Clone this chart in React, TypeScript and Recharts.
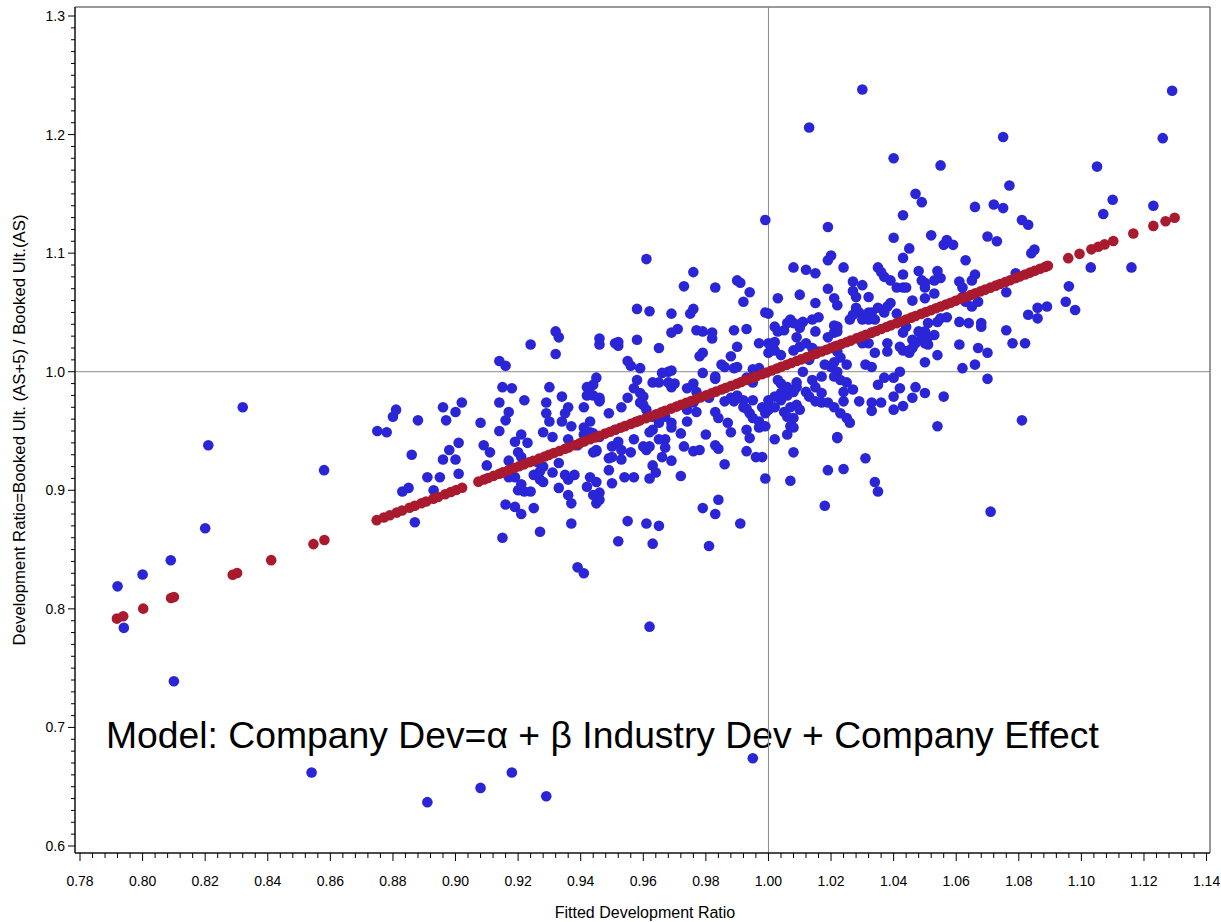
import React from "react";
import { ScatterChart, Scatter, XAxis, YAxis, ReferenceLine, ReferenceArea } from "recharts";

// tick labels
const xMajorTicks = [0.78, 0.8, 0.82, 0.84, 0.86, 0.88, 0.9, 0.92, 0.94, 0.96, 0.98, 1.0, 1.02, 1.04, 1.06, 1.08, 1.1, 1.12, 1.14];
const yMajorTicks = [0.6, 0.7, 0.8, 0.9, 1.0, 1.1, 1.2, 1.3];

// company points: [fitted ratio, actual development ratio]
const companyPoints: [number, number][] = [
  // left tail and low outliers
  [0.792, 0.819], [0.794, 0.784], [0.8, 0.829], [0.809, 0.841], [0.81, 0.739], [0.82, 0.868], [0.821, 0.938], [0.832, 0.97],
  [0.858, 0.917], [0.854, 0.662], [0.891, 0.637], [0.908, 0.649], [0.918, 0.662], [0.929, 0.642], [0.995, 0.674], [0.962, 0.785],
  [0.939, 0.835], [0.941, 0.83],
  // 0.87 - 0.90
  [0.875, 0.95], [0.878, 0.949], [0.88, 0.962], [0.881, 0.968], [0.888, 0.959], [0.896, 0.97], [0.902, 0.974], [0.897, 0.959],
  [0.9, 0.966], [0.886, 0.93], [0.901, 0.94], [0.898, 0.934], [0.896, 0.926], [0.9, 0.926], [0.901, 0.914], [0.891, 0.911],
  [0.895, 0.911], [0.885, 0.902], [0.883, 0.899], [0.893, 0.9], [0.887, 0.873],
  // 0.90 - 0.92
  [0.908, 0.957], [0.914, 0.95], [0.909, 0.938], [0.911, 0.932], [0.91, 0.921], [0.915, 0.987], [0.918, 0.986], [0.914, 0.974],
  [0.917, 0.966], [0.916, 0.959], [0.922, 0.976], [0.921, 0.947], [0.923, 0.94], [0.919, 0.941], [0.92, 0.932], [0.917, 0.925],
  [0.921, 0.928], [0.915, 0.86], [0.916, 0.888], [0.919, 0.886], [0.921, 0.88], [0.925, 0.885], [0.917, 0.911], [0.919, 0.911],
  [0.92, 0.9], [0.922, 0.899], [0.924, 0.899], [0.921, 0.905], [0.927, 0.865], [0.914, 1.009], [0.916, 1.005], [0.924, 1.023],
  // 0.92 - 0.95
  [0.93, 0.987], [0.934, 0.979], [0.929, 0.974], [0.929, 0.965], [0.93, 0.958], [0.928, 0.949], [0.931, 0.945], [0.935, 0.965],
  [0.936, 0.97], [0.934, 0.958], [0.937, 0.954], [0.941, 0.97], [0.943, 0.987], [0.944, 0.98], [0.946, 0.975], [0.943, 0.958],
  [0.941, 0.953], [0.936, 0.943], [0.939, 0.938], [0.944, 0.948], [0.945, 0.933], [0.949, 0.965], [0.926, 0.924], [0.928, 0.92],
  [0.925, 0.913], [0.927, 0.909], [0.931, 0.915], [0.933, 0.923], [0.935, 0.913], [0.938, 0.913], [0.936, 0.909], [0.933, 0.902],
  [0.943, 0.911], [0.945, 0.907], [0.942, 0.903], [0.944, 0.896], [0.946, 0.898], [0.945, 0.889], [0.936, 0.896], [0.937, 0.889],
  [0.937, 0.872], [0.949, 0.917], [0.949, 0.927], [0.927, 0.916], [0.928, 0.907], [0.946, 0.892], [0.944, 0.932], [0.945, 0.934],
  [0.941, 0.947], [0.943, 0.949], [0.932, 1.034], [0.933, 1.029], [0.932, 1.015], [0.946, 1.028], [0.946, 1.023], [0.945, 0.995],
  [0.942, 0.987], [0.944, 0.989], [0.942, 0.98], [0.946, 0.976], [0.946, 0.978], [0.946, 0.945],
  // 0.95 - 0.97
  [0.95, 0.906], [0.954, 0.911], [0.957, 0.911], [0.962, 0.91], [0.964, 0.915], [0.966, 0.928], [0.963, 0.921], [0.969, 0.925],
  [0.961, 0.934], [0.962, 0.937], [0.967, 0.943], [0.955, 0.874], [0.961, 0.872], [0.965, 0.87], [0.952, 0.857], [0.963, 0.855],
  [0.95, 0.937], [0.953, 0.934], [0.95, 0.928], [0.953, 0.926], [0.956, 0.932], [0.951, 1.024], [0.952, 1.025], [0.952, 1.022],
  [0.958, 1.027], [0.961, 1.095], [0.958, 1.053], [0.962, 1.051], [0.965, 1.02], [0.969, 1.049], [0.969, 1.033], [0.955, 1.009],
  [0.956, 1.005], [0.959, 1.003], [0.958, 0.993], [0.963, 0.991], [0.965, 0.991], [0.968, 1.0], [0.969, 1.001], [0.968, 0.991],
  [0.966, 0.999], [0.957, 0.986], [0.959, 0.982], [0.96, 0.979], [0.955, 0.978], [0.953, 0.97], [0.959, 0.974], [0.96, 0.972],
  [0.958, 0.958], [0.957, 0.943], [0.963, 0.951], [0.969, 0.953], [0.961, 0.968], [0.963, 0.962], [0.965, 0.957], [0.967, 0.962],
  [0.969, 0.957], [0.962, 0.949], [0.965, 0.943], [0.967, 0.936], [0.96, 0.937], [0.951, 0.951], [0.952, 0.941], [0.969, 0.987],
  // 0.97 - 1.00
  [0.972, 0.912], [0.973, 0.937], [0.976, 0.933], [0.978, 0.934], [0.983, 0.938], [0.984, 0.935], [0.986, 0.922], [0.984, 0.892],
  [0.979, 0.885], [0.983, 0.88], [0.991, 0.872], [0.981, 0.853], [0.993, 0.933], [0.996, 0.928], [0.971, 1.036], [0.973, 1.072],
  [0.976, 1.084], [0.975, 1.049], [0.976, 1.053], [0.983, 1.071], [0.977, 1.035], [0.979, 1.034], [0.982, 1.033], [0.982, 1.028],
  [0.99, 1.077], [0.991, 1.075], [0.994, 1.067], [0.992, 1.059], [0.989, 1.035], [0.993, 1.036], [0.997, 1.024], [0.99, 1.021],
  [0.988, 1.013], [0.978, 1.013], [0.979, 1.016], [0.985, 1.006], [0.986, 1.004], [0.989, 1.003], [0.99, 1.004], [0.979, 0.999],
  [0.97, 0.99], [0.976, 0.99], [0.993, 0.951], [0.994, 0.944], [0.976, 0.974], [0.989, 0.975], [0.995, 0.976], [0.994, 0.965],
  [0.995, 0.991], [0.993, 0.995], [0.997, 1.003], [0.995, 1.002], [0.983, 0.994], [0.983, 0.996], [0.974, 0.986], [0.977, 0.983],
  [0.972, 0.948], [0.974, 0.968], [0.977, 0.966], [0.981, 0.978], [0.983, 0.966], [0.984, 0.961], [0.986, 0.975], [0.988, 0.978],
  [0.99, 0.98], [0.992, 0.976], [0.992, 0.97], [0.993, 0.969], [0.998, 0.97], [0.999, 0.965], [0.995, 0.961], [0.997, 0.958],
  [0.997, 0.953], [0.999, 0.954], [0.987, 0.957], [0.988, 0.949], [0.98, 0.947], [0.974, 0.958], [0.998, 0.928], [0.999, 0.91],
  [0.999, 1.128], [0.999, 1.05],
  // 1.00 - 1.03
  [1.0, 1.049], [1.003, 1.062], [1.01, 1.065], [1.015, 1.058], [1.019, 1.07], [1.021, 1.062], [1.022, 1.056], [1.002, 1.038],
  [1.006, 1.041], [1.007, 1.044], [1.005, 1.035], [1.01, 1.04], [1.011, 1.042], [1.014, 1.044], [1.016, 1.046], [1.021, 1.039],
  [1.021, 1.033], [1.0, 1.024], [1.0, 1.016], [1.002, 1.018], [1.004, 1.014], [1.008, 1.018], [1.01, 1.021], [1.012, 1.024],
  [1.014, 1.02], [1.016, 1.017], [1.021, 1.021], [1.022, 1.017], [1.023, 1.012], [1.025, 1.006], [1.018, 1.006], [1.02, 1.004],
  [1.022, 1.0], [1.017, 0.996], [1.021, 0.996], [1.023, 0.993], [1.002, 0.97], [1.004, 0.976], [1.005, 0.966], [1.007, 0.97],
  [1.009, 0.972], [1.01, 0.968], [1.002, 0.979], [1.004, 0.982], [1.006, 0.98], [1.008, 0.983], [1.009, 0.987], [1.004, 0.99],
  [1.006, 0.987], [1.012, 0.983], [1.013, 0.979], [1.015, 0.975], [1.017, 0.974], [1.019, 0.974], [1.021, 0.97], [1.023, 0.965],
  [1.025, 0.961], [1.026, 0.957], [1.008, 0.961], [1.007, 0.954], [1.002, 0.943], [1.006, 0.947], [1.008, 0.953], [1.008, 0.932],
  [1.022, 0.945], [1.019, 1.122], [1.019, 1.094], [1.02, 1.098], [1.008, 1.088], [1.012, 1.086], [1.015, 1.083], [1.024, 1.088],
  [1.027, 1.076], [1.027, 1.068], [1.028, 1.063], [1.03, 1.073], [1.028, 1.054], [1.029, 1.05], [1.026, 1.044], [1.027, 1.048],
  [1.03, 1.044], [1.022, 1.038], [1.022, 1.034], [1.015, 1.034], [1.01, 1.037], [1.008, 1.041], [1.003, 1.034], [1.002, 1.025],
  [1.009, 1.029], [1.013, 1.01], [1.011, 1.0], [1.019, 1.029], [1.021, 1.008], [1.025, 0.991], [1.027, 0.985], [1.024, 0.983],
  [1.017, 0.982], [1.03, 1.024], [1.003, 0.993], [1.0, 0.976], [1.009, 0.991], [1.014, 0.993], [1.015, 0.987], [1.0, 0.968],
  [1.006, 0.962], [1.007, 0.908], [1.024, 0.975], [1.029, 0.975], [1.022, 0.944], [1.019, 0.917], [1.024, 0.918], [1.018, 0.887],
  [1.013, 1.206], [1.03, 1.238],
  // 1.03 - 1.06
  [1.035, 1.088], [1.036, 1.084], [1.037, 1.08], [1.039, 1.077], [1.041, 1.071], [1.043, 1.071], [1.044, 1.071], [1.043, 1.082],
  [1.043, 1.132], [1.047, 1.15], [1.049, 1.143], [1.04, 1.113], [1.045, 1.104], [1.043, 1.096], [1.048, 1.085], [1.054, 1.085],
  [1.055, 1.079], [1.049, 1.077], [1.05, 1.075], [1.053, 1.077], [1.05, 1.071], [1.052, 1.115], [1.056, 1.107], [1.057, 1.111],
  [1.059, 1.107], [1.054, 1.014], [1.05, 1.008], [1.056, 0.979], [1.05, 0.982], [1.046, 0.978], [1.047, 0.987], [1.042, 1.0],
  [1.04, 0.995], [1.037, 0.995], [1.035, 0.989], [1.042, 0.986], [1.04, 0.979], [1.033, 0.974], [1.032, 1.063], [1.032, 1.046],
  [1.032, 1.05], [1.035, 1.054], [1.037, 1.05], [1.038, 1.055], [1.039, 1.058], [1.041, 1.049], [1.044, 1.038], [1.046, 1.06],
  [1.05, 1.062], [1.053, 1.066], [1.057, 1.046], [1.055, 1.045], [1.054, 1.042], [1.051, 1.041], [1.05, 1.034], [1.048, 1.034],
  [1.049, 1.029], [1.051, 1.029], [1.053, 1.031], [1.043, 1.033], [1.046, 1.027], [1.045, 1.018], [1.047, 1.024], [1.05, 1.024],
  [1.051, 1.023], [1.038, 1.024], [1.038, 1.017], [1.033, 1.033], [1.032, 1.024], [1.034, 1.016], [1.032, 1.044], [1.034, 1.044],
  [1.033, 1.05], [1.031, 1.006], [1.033, 1.004], [1.042, 1.021], [1.043, 1.018], [1.045, 1.016], [1.046, 1.02], [1.036, 0.974],
  [1.04, 0.968], [1.043, 0.971], [1.033, 0.967], [1.031, 0.927], [1.034, 0.907], [1.035, 0.899], [1.054, 0.954], [1.04, 1.18],
  [1.055, 1.174],
  // 1.06 and up
  [1.063, 1.094], [1.066, 1.139], [1.072, 1.141], [1.075, 1.138], [1.077, 1.157], [1.081, 1.128], [1.083, 1.124], [1.07, 1.114],
  [1.073, 1.11], [1.085, 1.103], [1.084, 1.1], [1.066, 1.082], [1.065, 1.077], [1.061, 1.076], [1.062, 1.071], [1.079, 1.083],
  [1.076, 1.067], [1.096, 1.072], [1.095, 1.059], [1.098, 1.052], [1.089, 1.055], [1.086, 1.054], [1.086, 1.045], [1.083, 1.048],
  [1.076, 1.035], [1.078, 1.024], [1.082, 1.024], [1.07, 1.016], [1.067, 1.02], [1.068, 1.038], [1.062, 1.003], [1.066, 1.006],
  [1.07, 0.994], [1.061, 1.023], [1.062, 1.063], [1.063, 1.059], [1.065, 1.055], [1.067, 1.059], [1.068, 1.041], [1.064, 1.041],
  [1.061, 1.042], [1.081, 0.959], [1.071, 0.882], [1.075, 1.198], [1.129, 1.237], [1.126, 1.197], [1.105, 1.173], [1.11, 1.145],
  [1.107, 1.133], [1.123, 1.14], [1.103, 1.088], [1.116, 1.088],
];

// fitted points: [fitted ratio, fitted ratio] - they sit on the diagonal
const fittedPoints: [number, number][] = [
  [0.7918, 0.7918], [0.7938, 0.7938], [0.8002, 0.8002], [0.8091, 0.8091], [0.81, 0.81], [0.8288, 0.8288], [0.8302, 0.8302],
  [0.8411, 0.8411], [0.8546, 0.8546], [0.8581, 0.8581],
  [0.8748, 0.8748], [0.8771, 0.8771], [0.879, 0.879], [0.8812, 0.8812], [0.8829, 0.8829], [0.8853, 0.8853], [0.887, 0.887],
  [0.8891, 0.8891], [0.8906, 0.8906], [0.8929, 0.8929], [0.8944, 0.8944], [0.8967, 0.8967], [0.8985, 0.8985], [0.9002, 0.9002],
  [0.9021, 0.9021],
  [0.9073, 0.9073], [0.9091, 0.9091], [0.9104, 0.9104], [0.9122, 0.9122], [0.914, 0.914], [0.9151, 0.9151], [0.9169, 0.9169],
  [0.9188, 0.9188], [0.9203, 0.9203], [0.9219, 0.9219], [0.9236, 0.9236], [0.9248, 0.9248], [0.9267, 0.9267], [0.9285, 0.9285],
  [0.9299, 0.9299], [0.9314, 0.9314], [0.9332, 0.9332], [0.935, 0.935], [0.9361, 0.9361], [0.938, 0.938], [0.9397, 0.9397],
  [0.9411, 0.9411], [0.943, 0.943], [0.9446, 0.9446], [0.9459, 0.9459], [0.9478, 0.9478], [0.9494, 0.9494], [0.951, 0.951],
  [0.9527, 0.9527], [0.9541, 0.9541], [0.956, 0.956], [0.9575, 0.9575], [0.959, 0.959], [0.9608, 0.9608], [0.9622, 0.9622],
  [0.9641, 0.9641], [0.9657, 0.9657], [0.967, 0.967], [0.9689, 0.9689], [0.9706, 0.9706], [0.972, 0.972], [0.9737, 0.9737],
  [0.9753, 0.9753], [0.9769, 0.9769], [0.9784, 0.9784], [0.9801, 0.9801], [0.9818, 0.9818], [0.9832, 0.9832], [0.985, 0.985],
  [0.9864, 0.9864], [0.9881, 0.9881], [0.9899, 0.9899], [0.9913, 0.9913], [0.993, 0.993], [0.9946, 0.9946], [0.996, 0.996],
  [0.9979, 0.9979], [0.9994, 0.9994], [1.001, 1.001], [1.0027, 1.0027], [1.0041, 1.0041], [1.0058, 1.0058], [1.0073, 1.0073],
  [1.009, 1.009], [1.0104, 1.0104], [1.0121, 1.0121], [1.0138, 1.0138], [1.0152, 1.0152], [1.017, 1.017], [1.0185, 1.0185],
  [1.0199, 1.0199], [1.0218, 1.0218], [1.0233, 1.0233], [1.0249, 1.0249], [1.0262, 1.0262], [1.0281, 1.0281], [1.0297, 1.0297],
  [1.0311, 1.0311], [1.0329, 1.0329], [1.0344, 1.0344], [1.036, 1.036], [1.0377, 1.0377], [1.0391, 1.0391], [1.0409, 1.0409],
  [1.0423, 1.0423], [1.044, 1.044], [1.0456, 1.0456], [1.047, 1.047], [1.0488, 1.0488], [1.0503, 1.0503], [1.0519, 1.0519],
  [1.0535, 1.0535], [1.055, 1.055], [1.0567, 1.0567], [1.0582, 1.0582], [1.0598, 1.0598], [1.0613, 1.0613], [1.063, 1.063],
  [1.0646, 1.0646], [1.0661, 1.0661], [1.0678, 1.0678], [1.0692, 1.0692], [1.0709, 1.0709], [1.0726, 1.0726], [1.074, 1.074],
  [1.0757, 1.0757], [1.0772, 1.0772], [1.0789, 1.0789], [1.0803, 1.0803], [1.082, 1.082], [1.0836, 1.0836], [1.0851, 1.0851],
  [1.0868, 1.0868], [1.0884, 1.0884], [1.0893, 1.0893],
  [1.0958, 1.0958], [1.0994, 1.0994], [1.1032, 1.1032], [1.1054, 1.1054], [1.1074, 1.1074], [1.1102, 1.1102], [1.1166, 1.1166],
  [1.123, 1.123], [1.1269, 1.1269], [1.1298, 1.1298],
];

const X_DOMAIN: [number, number] = [0.7784, 1.1411];
const Y_DOMAIN: [number, number] = [0.5941, 1.3076];
const FONT = "'Liberation Sans', Arial, sans-serif";
const BLUE = "#2a25d6";
const RED = "#a91a2e";

// minor ticks every 0.004 on x and 0.01 on y
const xTicks = Array.from({ length: 91 }, (_, i) => Number((0.78 + i * 0.004).toFixed(3)));
const yTicks = Array.from({ length: 71 }, (_, i) => Number((0.6 + i * 0.01).toFixed(2)));

const isMajorX = (v: number) => xMajorTicks.some((t) => Math.abs(t - v) < 1e-6);
const isMajorY = (v: number) => yMajorTicks.some((t) => Math.abs(t - v) < 1e-6);

function XTick(props: any) {
  const { x, y, payload } = props;
  const major = isMajorX(payload.value);
  return (
    <g>
      <line x1={x} x2={x} y1={y} y2={y + (major ? 8 : 5)} stroke="#000" />
      {major && (
        <text x={x} y={y + 33} textAnchor="middle" fontSize={14} fontFamily={FONT} fill="#000">
          {payload.value.toFixed(2)}
        </text>
      )}
    </g>
  );
}

function YTick(props: any) {
  const { x, y, payload } = props;
  const major = isMajorY(payload.value);
  return (
    <g>
      <line x1={x} x2={x - (major ? 7 : 4)} y1={y} y2={y} stroke="#000" />
      {major && (
        <text x={x - 10} y={y + 5} textAnchor="end" fontSize={14} fontFamily={FONT} fill="#000">
          {payload.value.toFixed(1)}
        </text>
      )}
    </g>
  );
}

const dot = (color: string) => (props: any) => <circle cx={props.cx} cy={props.cy} r={5.3} fill={color} />;

export default function App() {
  const company = companyPoints.map(([x, y]) => ({ x, y }));
  const fitted = fittedPoints.map(([x, y]) => ({ x, y }));

  return (
    <div style={{ position: "absolute", left: 0, top: 0, background: "#fff" }}>
      <ScatterChart width={1221} height={922} margin={{ top: 7, right: 11, bottom: 0, left: 0 }}>
        <XAxis
          type="number"
          dataKey="x"
          domain={X_DOMAIN}
          allowDataOverflow
          ticks={xTicks}
          interval={0}
          tick={<XTick />}
          tickLine={false}
          tickSize={0}
          tickMargin={0}
          height={69}
          axisLine={{ stroke: "#000" }}
        />
        <YAxis
          type="number"
          dataKey="y"
          domain={Y_DOMAIN}
          allowDataOverflow
          ticks={yTicks}
          interval={0}
          tick={<YTick />}
          tickLine={false}
          tickSize={0}
          tickMargin={0}
          width={75}
          axisLine={{ stroke: "#000" }}
        />
        <ReferenceArea x1={X_DOMAIN[0]} x2={X_DOMAIN[1]} y1={Y_DOMAIN[0]} y2={Y_DOMAIN[1]} fill="none" fillOpacity={0} stroke="#333" />
        <ReferenceLine x={1} stroke="#8a8a8a" />
        <ReferenceLine y={1} stroke="#8a8a8a" />
        <Scatter data={company} shape={dot(BLUE)} isAnimationActive={false} />
        <Scatter data={fitted} shape={dot(RED)} isAnimationActive={false} />
        <text x={106} y={748} fontSize={37.3} fontFamily={FONT} fill="#000">
          Model: Company Dev=α + β Industry Dev + Company Effect
        </text>
        <text x={645} y={918} textAnchor="middle" fontSize={16} fontFamily={FONT} fill="#000">
          Fitted Development Ratio
        </text>
        <text x={19} y={430} transform="rotate(-90, 19, 430)" textAnchor="middle" dominantBaseline="central" fontSize={16.8} fontFamily={FONT} fill="#000">
          Development Ratio=Booked Ult. (AS+5) / Booked Ult.(AS)
        </text>
      </ScatterChart>
    </div>
  );
}
